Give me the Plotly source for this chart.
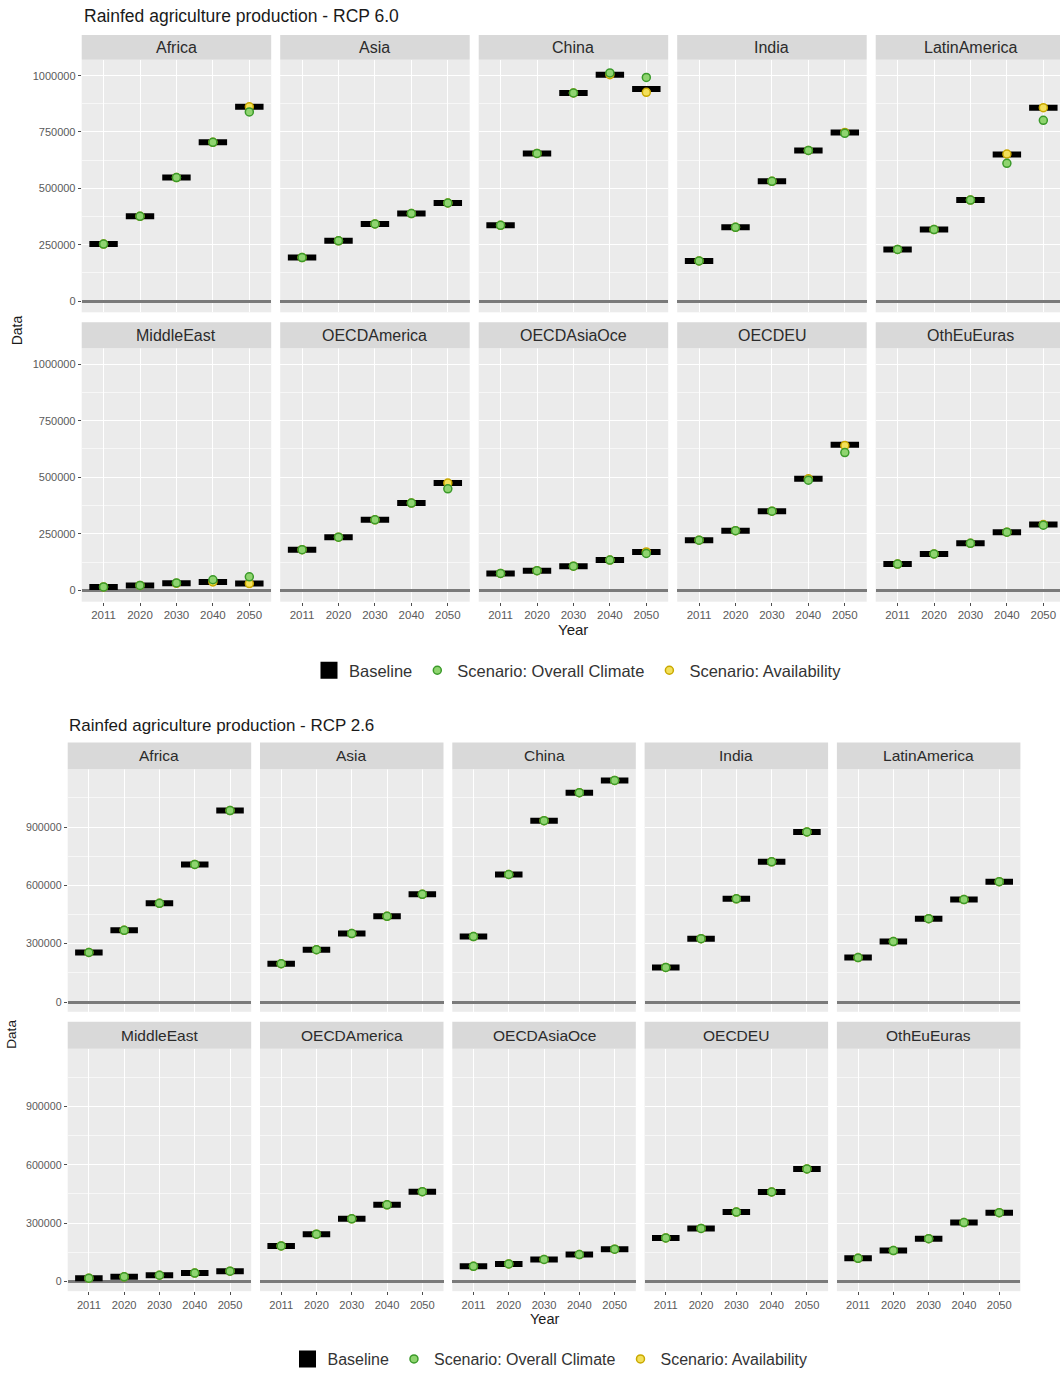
import plotly.graph_objects as go

W, H = 1060, 1376

years = ["2011", "2020", "2030", "2040", "2050"]
regions = ["Africa", "Asia", "China", "India", "LatinAmerica",
           "MiddleEast", "OECDAmerica", "OECDAsiaOce", "OECDEU", "OthEuEuras"]

# ---- RCP 6.0 ----
rcp60_baseline = {
    "Africa":       [253000, 376000, 548000, 704000, 862000],
    "Asia":         [193000, 267000, 342000, 388000, 435000],
    "China":        [336000, 655000, 923000, 1004000, 941000],
    "India":        [178000, 327000, 531000, 668000, 748000],
    "LatinAmerica": [229000, 317000, 448000, 650000, 858000],
    "MiddleEast":   [15000, 22000, 31000, 37000, 30000],
    "OECDAmerica":  [180000, 235000, 312000, 386000, 474000],
    "OECDAsiaOce":  [75000, 87000, 107000, 134000, 170000],
    "OECDEU":       [222000, 264000, 350000, 493000, 643000],
    "OthEuEuras":   [116000, 161000, 208000, 257000, 291000],
}
rcp60_climate = {
    "Africa":       [253000, 376000, 548000, 704000, 839000],
    "Asia":         [193000, 267000, 342000, 388000, 435000],
    "China":        [336000, 655000, 923000, 1012000, 992000],
    "India":        [178000, 327000, 531000, 668000, 744000],
    "LatinAmerica": [229000, 317000, 448000, 611000, 802000],
    "MiddleEast":   [15000, 22000, 33000, 47000, 60000],
    "OECDAmerica":  [180000, 235000, 312000, 386000, 449000],
    "OECDAsiaOce":  [75000, 87000, 107000, 134000, 163000],
    "OECDEU":       [222000, 264000, 350000, 487000, 609000],
    "OthEuEuras":   [116000, 161000, 208000, 257000, 288000],
}
rcp60_availability = {
    "Africa":       [253000, 376000, 548000, 704000, 862000],
    "Asia":         [193000, 267000, 342000, 388000, 435000],
    "China":        [336000, 655000, 923000, 1004000, 926000],
    "India":        [178000, 327000, 531000, 668000, 748000],
    "LatinAmerica": [229000, 317000, 448000, 652000, 858000],
    "MiddleEast":   [15000, 22000, 31000, 37000, 30000],
    "OECDAmerica":  [180000, 235000, 312000, 386000, 474000],
    "OECDAsiaOce":  [75000, 87000, 107000, 134000, 170000],
    "OECDEU":       [222000, 264000, 350000, 493000, 640000],
    "OthEuEuras":   [116000, 161000, 208000, 257000, 291000],
}
rcp60_yticks = [0, 250000, 500000, 750000, 1000000]
rcp60_yminor = [125000, 375000, 625000, 875000]

# ---- RCP 2.6 ----
rcp26_baseline = {
    "Africa":       [255000, 369000, 508000, 708000, 985000],
    "Asia":         [197000, 269000, 352000, 441000, 554000],
    "China":        [337000, 656000, 933000, 1077000, 1140000],
    "India":        [178000, 326000, 531000, 721000, 875000],
    "LatinAmerica": [229000, 311000, 429000, 527000, 619000],
    "MiddleEast":   [17000, 24000, 32000, 43000, 53000],
    "OECDAmerica":  [183000, 243000, 322000, 394000, 462000],
    "OECDAsiaOce":  [78000, 90000, 113000, 138000, 166000],
    "OECDEU":       [224000, 273000, 357000, 460000, 579000],
    "OthEuEuras":   [119000, 159000, 220000, 303000, 354000],
}
rcp26_climate = {
    "Africa":       [255000, 369000, 508000, 708000, 985000],
    "Asia":         [197000, 269000, 352000, 441000, 554000],
    "China":        [337000, 656000, 933000, 1077000, 1140000],
    "India":        [178000, 326000, 531000, 721000, 875000],
    "LatinAmerica": [229000, 311000, 429000, 527000, 619000],
    "MiddleEast":   [17000, 24000, 32000, 43000, 53000],
    "OECDAmerica":  [183000, 243000, 322000, 394000, 462000],
    "OECDAsiaOce":  [78000, 90000, 113000, 138000, 166000],
    "OECDEU":       [224000, 273000, 357000, 460000, 579000],
    "OthEuEuras":   [119000, 159000, 220000, 303000, 354000],
}
rcp26_availability = {
    "Africa":       [255000, 369000, 508000, 708000, 985000],
    "Asia":         [197000, 269000, 352000, 441000, 554000],
    "China":        [337000, 656000, 933000, 1077000, 1140000],
    "India":        [178000, 326000, 531000, 721000, 875000],
    "LatinAmerica": [229000, 311000, 429000, 527000, 619000],
    "MiddleEast":   [17000, 24000, 32000, 43000, 53000],
    "OECDAmerica":  [183000, 243000, 322000, 394000, 462000],
    "OECDAsiaOce":  [78000, 90000, 113000, 138000, 166000],
    "OECDEU":       [224000, 273000, 357000, 460000, 579000],
    "OthEuEuras":   [119000, 159000, 220000, 303000, 354000],
}
rcp26_yticks = [0, 300000, 600000, 900000]
rcp26_yminor = [150000, 450000, 750000, 1050000]

# ---------------- layout helpers ----------------
def px(x):
    return x / W

def py(y):
    return 1 - y / H

charts = [
    dict(title="Rainfed agriculture production - RCP 6.0",
         base=rcp60_baseline, clim=rcp60_climate, avail=rcp60_availability,
         yticks=rcp60_yticks, yminor=rcp60_yminor, yrange=[-50000, 1070000],
         cols=[81.7, 280.2, 478.7, 677.2, 875.7], colw=189.5,
         rows=[(35, 60, 313), (323, 349, 603)],
         title_xy=(82, 16), data_xy=(17, 331), year_xy=(573, 631),
         legend_xy=(578, 672), legend="legend", fs=1.0),
    dict(title="Rainfed agriculture production - RCP 2.6",
         base=rcp26_baseline, clim=rcp26_climate, avail=rcp26_availability,
         yticks=rcp26_yticks, yminor=rcp26_yminor, yrange=[-50000, 1197000],
         cols=[67.7, 260.0, 452.3, 644.6, 836.9], colw=183.5,
         rows=[(744, 771, 1014), (1024, 1051, 1294)],
         title_xy=(67, 727), data_xy=(12, 1037), year_xy=(545, 1322),
         legend_xy=(550, 1362), legend="legend2", fs=0.97),
]

FONT = "Liberation Sans, Arial, sans-serif"
fig = go.Figure()
layout = {}
shapes = []
annotations = []

k = 0
for c in charts:
    fs = c["fs"]
    for i, reg in enumerate(regions):
        k += 1
        r, col = divmod(i, 5)
        left = c["cols"][col]
        right_full = left + c["colw"]
        right = min(right_full, W)
        strip_top, ptop, pbot = c["rows"][r]
        xr_end = -0.6 + 5.2 * (right - left) / c["colw"]
        xs = "" if k == 1 else str(k)
        layout["xaxis" + xs] = dict(
            domain=[px(left), px(right)], anchor="y" + xs,
            type="category", categoryorder="array", categoryarray=years,
            range=[-0.6, xr_end], showgrid=True, gridcolor="white", gridwidth=1.1,
            zeroline=False, showline=False,
            ticks="outside" if r == 1 else "", ticklen=3, tickwidth=1, tickcolor="#4d4d4d",
            showticklabels=(r == 1),
            tickfont=dict(family=FONT, size=11.5 * fs, color="#5a5a5a"),
            fixedrange=True,
        )
        layout["yaxis" + xs] = dict(
            domain=[py(pbot), py(ptop)], anchor="x" + xs,
            range=c["yrange"], tickvals=c["yticks"], ticktext=[str(t) for t in c["yticks"]],
            showgrid=True, gridcolor="white", gridwidth=1.1,
            minor=dict(tickvals=c["yminor"], showgrid=True, gridcolor="#f7f7f7", gridwidth=0.6, ticks=""),
            zeroline=True, zerolinecolor="#7a7a7a", zerolinewidth=2.5,
            showline=False,
            ticks="outside" if col == 0 else "", ticklen=3, tickwidth=1, tickcolor="#4d4d4d",
            showticklabels=(col == 0),
            tickfont=dict(family=FONT, size=11 * fs, color="#5a5a5a"),
            fixedrange=True,
        )
        # strip
        shapes.append(dict(type="rect", xref="paper", yref="paper",
                           x0=px(left), x1=px(right), y0=py(ptop), y1=py(strip_top),
                           fillcolor="#D9D9D9", line=dict(width=0), layer="above"))
        annotations.append(dict(text=reg, xref="paper", yref="paper",
                                x=px((left + right_full) / 2), y=py((strip_top + ptop) / 2),
                                xanchor="center", yanchor="middle", showarrow=False,
                                font=dict(family=FONT, size=16 * fs, color="#2b2b2b")))

        first = (i == 0)
        fig.add_trace(go.Box(
            x=years, y=c["base"][reg], xaxis="x" + xs, yaxis="y" + xs,
            name="Baseline", legendgroup=c["legend"] + "b", showlegend=first,
            legend=c["legend"], legendrank=1,
            fillcolor="black", line=dict(color="black", width=6), width=0.78,
            boxpoints=False, whiskerwidth=0, hoverinfo="skip",
        ))
        fig.add_trace(go.Scatter(
            x=years, y=c["avail"][reg], xaxis="x" + xs, yaxis="y" + xs, mode="markers",
            name="Scenario: Availability", legendgroup=c["legend"] + "a", showlegend=first,
            legend=c["legend"], legendrank=3,
            marker=dict(symbol="circle", size=8, color="#f3e05a", line=dict(color="#c9a800", width=1.5)),
            hoverinfo="skip",
        ))
        fig.add_trace(go.Scatter(
            x=years, y=c["clim"][reg], xaxis="x" + xs, yaxis="y" + xs, mode="markers",
            name="Scenario: Overall Climate", legendgroup=c["legend"] + "c", showlegend=first,
            legend=c["legend"], legendrank=2,
            marker=dict(symbol="circle", size=8, color="#8fd46f", line=dict(color="#3b9a2a", width=1.5)),
            hoverinfo="skip",
        ))

    # titles
    annotations.append(dict(text=c["title"], xref="paper", yref="paper",
                            x=px(c["title_xy"][0]), y=py(c["title_xy"][1]),
                            xanchor="left", yanchor="middle", showarrow=False,
                            font=dict(family=FONT, size=17.5 * fs, color="#1a1a1a")))
    annotations.append(dict(text="Data", xref="paper", yref="paper",
                            x=px(c["data_xy"][0]), y=py(c["data_xy"][1]),
                            xanchor="center", yanchor="middle", showarrow=False, textangle=-90,
                            font=dict(family=FONT, size=14 * fs, color="#1a1a1a")))
    annotations.append(dict(text="Year", xref="paper", yref="paper",
                            x=px(c["year_xy"][0]), y=py(c["year_xy"][1]),
                            xanchor="center", yanchor="middle", showarrow=False,
                            font=dict(family=FONT, size=15 * fs, color="#1a1a1a")))
    layout[c["legend"]] = dict(
        orientation="h", x=px(c["legend_xy"][0]), xanchor="center",
        y=py(c["legend_xy"][1]), yanchor="middle",
        font=dict(family=FONT, size=16.5 * fs, color="#333333"),
        bgcolor="rgba(0,0,0,0)", itemwidth=30, tracegroupgap=0,
    )

fig.update_layout(
    width=W, height=H, margin=dict(l=0, r=0, t=0, b=0),
    paper_bgcolor="white", plot_bgcolor="#EBEBEB",
    font=dict(family=FONT), showlegend=True,
    shapes=shapes, annotations=annotations, boxmode="overlay",
    **layout,
)

fig.write_html("out.html")
